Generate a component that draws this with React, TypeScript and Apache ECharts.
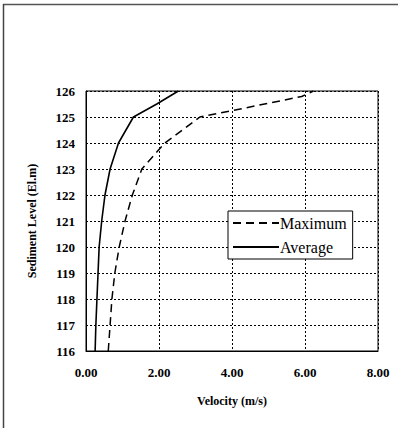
import React, { useEffect, useRef } from "react";
import * as echarts from "echarts";

const levels = [116, 117, 118, 119, 120, 121, 122, 123, 124, 125, 125.5, 126];
const averageVel = [0.25, 0.27, 0.3, 0.33, 0.36, 0.43, 0.52, 0.66, 0.89, 1.3, 1.94, 2.53];

const maxLevels = [116, 117, 118, 119, 120, 121, 122, 123, 123.67, 124, 125, 125.23, 125.79, 126];
const maximumVel = [0.61, 0.66, 0.71, 0.79, 0.91, 1.07, 1.27, 1.53, 1.95, 2.16, 3.12, 3.95, 5.91, 6.23];

const xTicks = [0, 2, 4, 6, 8];

export default function App() {
  const ref = useRef<HTMLDivElement>(null);
  useEffect(() => {
    if (!ref.current) return;
    const chart = echarts.init(ref.current, undefined, { renderer: "svg" });
    const serif = "Liberation Serif";
    chart.setOption({
      animation: false,
      backgroundColor: "#ffffff",
      grid: { left: 86, right: 20, top: 91, bottom: 77, show: true, borderColor: "#000", borderWidth: 1 },
      xAxis: {
        type: "value",
        min: 0,
        max: 8,
        interval: 2,
        name: "Velocity (m/s)",
        nameLocation: "middle",
        nameGap: 44,
        nameTextStyle: { fontFamily: serif, fontWeight: "bold", fontSize: 12, color: "#000" },
        axisLine: { show: true, lineStyle: { color: "#000", width: 1 } },
        axisTick: { show: false },
        axisLabel: {
          fontFamily: serif,
          fontWeight: "bold",
          fontSize: 13,
          color: "#000",
          margin: 15,
          formatter: (v: number) => (xTicks.includes(v) ? v.toFixed(2) : ""),
        },
        splitLine: { show: true, lineStyle: { color: "#000", type: [2, 2], width: 1 } },
      },
      yAxis: {
        type: "value",
        min: 116,
        max: 126,
        interval: 1,
        name: "Sediment Level (El.m)",
        nameLocation: "middle",
        nameGap: 48,
        nameTextStyle: { fontFamily: serif, fontWeight: "bold", fontSize: 12, color: "#000" },
        axisLine: { show: true, lineStyle: { color: "#000", width: 1 } },
        axisTick: { show: false },
        axisLabel: { fontFamily: serif, fontWeight: "bold", fontSize: 13, color: "#000", margin: 11 },
        splitLine: { show: true, lineStyle: { color: "#000", type: [2, 2], width: 1 } },
      },
      legend: {
        orient: "vertical",
        left: 228,
        top: 211,
        backgroundColor: "#fff",
        borderColor: "#000",
        borderWidth: 1,
        borderRadius: 0,
        padding: [4, 6, 4, 4],
        itemGap: 8,
        itemWidth: 46,
        itemHeight: 14,
        itemStyle: { opacity: 0 },
        textStyle: { fontFamily: serif, fontSize: 16, color: "#000", padding: [0, 0, 0, -4] },
        data: ["Maximum", "Average"],
      },
      series: [
        {
          name: "Maximum",
          type: "line",
          data: maximumVel.map((v, i) => [v, maxLevels[i]]),
          showSymbol: false,
          symbol: "none",
          lineStyle: { color: "#000", width: 1.5, type: [8, 5] },
          itemStyle: { color: "#000" },
        },
        {
          name: "Average",
          type: "line",
          data: averageVel.map((v, i) => [v, levels[i]]),
          showSymbol: false,
          symbol: "none",
          lineStyle: { color: "#000", width: 1.6, type: "solid" },
          itemStyle: { color: "#000" },
        },
      ],
      graphic: [
        { type: "line", shape: { x1: 3, y1: 4.5, x2: 398, y2: 4.5 }, style: { stroke: "#555", lineWidth: 1.5 } },
        { type: "line", shape: { x1: 3.5, y1: 4, x2: 3.5, y2: 428 }, style: { stroke: "#444", lineWidth: 1.5 } },
      ],
    });
    return () => chart.dispose();
  }, []);
  return <div ref={ref} style={{ width: 398, height: 428, position: "absolute", left: 0, top: 0 }} />;
}
